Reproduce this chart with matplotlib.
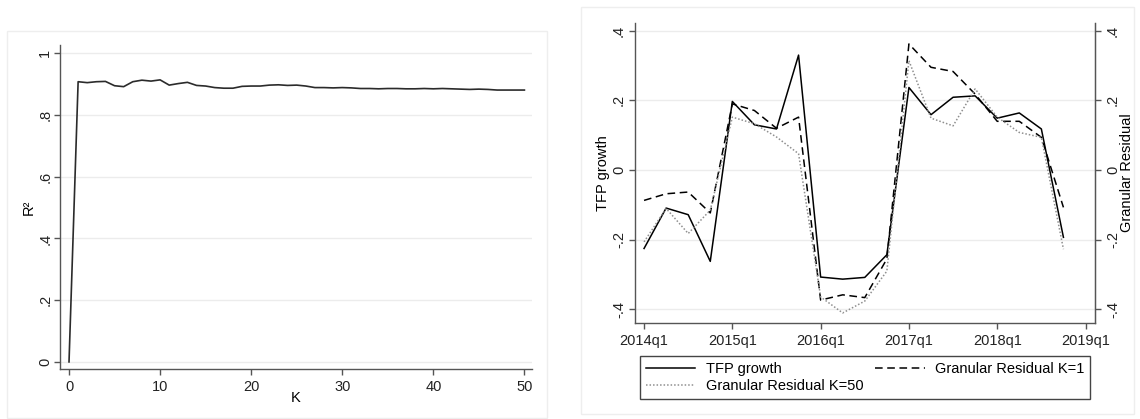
import numpy as np
import matplotlib
matplotlib.use("Agg")
import matplotlib.pyplot as plt
from matplotlib.patches import Rectangle

plt.rcParams['font.family'] = ['Liberation Sans', 'DejaVu Sans']
plt.rcParams['font.size'] = 10.5

# left panel: R2 by K
k_values = list(range(0, 51))
r2_values = [0.000, 0.908, 0.905, 0.908, 0.909, 0.895, 0.892, 0.908, 0.913, 0.910,
             0.914, 0.897, 0.902, 0.906, 0.896, 0.894, 0.889, 0.887, 0.887, 0.893,
             0.894, 0.894, 0.897, 0.898, 0.896, 0.897, 0.894, 0.889, 0.889, 0.888,
             0.889, 0.888, 0.886, 0.886, 0.885, 0.886, 0.886, 0.885, 0.885, 0.886,
             0.885, 0.886, 0.885, 0.884, 0.883, 0.884, 0.883, 0.881, 0.881, 0.881,
             0.881]
r2_ticks = [0, 0.2, 0.4, 0.6, 0.8, 1]
r2_ticklabels = ["0", ".2", ".4", ".6", ".8", "1"]
k_ticks = [0, 10, 20, 30, 40, 50]

# right panel: quarterly series 2014q1 - 2018q4
quarters = list(range(20))
tfp_growth = [-0.225, -0.109, -0.128, -0.262, 0.197, 0.130, 0.118, 0.330, -0.307, -0.313,
              -0.308, -0.243, 0.237, 0.159, 0.209, 0.213, 0.149, 0.164, 0.118, -0.193]
gr_k1 = [-0.087, -0.068, -0.063, -0.123, 0.190, 0.171, 0.120, 0.152, -0.373, -0.358,
         -0.366, -0.255, 0.362, 0.295, 0.283, 0.218, 0.140, 0.140, 0.094, -0.107]
gr_k50 = [-0.206, -0.110, -0.182, -0.115, 0.152, 0.133, 0.095, 0.047, -0.364, -0.410,
          -0.376, -0.290, 0.314, 0.149, 0.127, 0.233, 0.152, 0.108, 0.094, -0.227]
q_ticks = [0, 4, 8, 12, 16, 20]
q_ticklabels = ["2014q1", "2015q1", "2016q1", "2017q1", "2018q1", "2019q1"]
res_ticks = [-0.4, -0.2, 0, 0.2, 0.4]
res_ticklabels = ["-.4", "-.2", "0", ".2", ".4"]

W, H = 1140, 419
SPINE = "#555555"
GRID = "#ececec"


# stata-like axis look
def styleAxis(ax, sides):
    for s in ["left", "right", "top", "bottom"]:
        ax.spines[s].set_visible(s in sides)
        ax.spines[s].set_color(SPINE)
        ax.spines[s].set_linewidth(1.0)
    ax.tick_params(colors=SPINE, labelcolor="#222222", length=4, width=1.0)
    ax.set_facecolor("white")


fig = plt.figure(figsize=(W / 100, H / 100), dpi=100)
fig.patch.set_facecolor("white")

# faint outer graph-region boxes
fig.add_artist(Rectangle((7 / W, 1 - 418 / H), 540 / W, 387 / H, transform=fig.transFigure,
                         fill=False, edgecolor="#eeeeee", linewidth=1))
fig.add_artist(Rectangle((581 / W, 1 - 414 / H), 553 / W, 407 / H, transform=fig.transFigure,
                         fill=False, edgecolor="#eeeeee", linewidth=1))

# ---- left panel
ax1 = fig.add_axes([60 / W, 1 - 369.3 / H, 471.7 / W, 324.3 / H])
styleAxis(ax1, ["left", "bottom"])
ax1.plot(k_values, r2_values, color="#2b2b2b", linewidth=1.2)
ax1.set_xlim(-0.99, 50.8)
ax1.set_ylim(-0.024, 1.027)
ax1.set_yticks(r2_ticks)
ax1.set_yticklabels(r2_ticklabels, rotation=90, va="center")
ax1.set_xticks(k_ticks)
ax1.tick_params(axis="y", pad=1.5)
ax1.tick_params(axis="x", pad=4)
for t in r2_ticks:
    ax1.axhline(t, color=GRID, linewidth=1, zorder=0)
ax1.set_ylabel("R²")
ax1.yaxis.set_label_coords((29 - 60) / 471.7, 0.5)
ax1.yaxis.label.set_va("center")
ax1.set_xlabel("K")
ax1.xaxis.set_label_coords(0.5, (369.3 - 398) / 324.3)
ax1.xaxis.label.set_va("center")

# ---- right panel
ax2 = fig.add_axes([635 / W, 1 - 322.7 / H, 460 / W, 300 / H])
styleAxis(ax2, ["left", "bottom", "right"])
l1, = ax2.plot(quarters, tfp_growth, color="black", linewidth=1.1, label="TFP growth")
l2, = ax2.plot(quarters, gr_k1, color="black", linewidth=1.1, linestyle=(0, (5, 3)),
               label="Granular Residual K=1")
l3, = ax2.plot(quarters, gr_k50, color="#8f8f8f", linewidth=1.1, linestyle=(0, (1, 1.3)),
               label="Granular Residual K=50")
ax2.set_xlim(-0.41, 20.43)
ax2.set_ylim(-0.438, 0.423)
ax2.set_yticks(res_ticks)
ax2.set_yticklabels(res_ticklabels, rotation=90, va="center")
ax2.set_xticks(q_ticks)
ax2.set_xticklabels(q_ticklabels)
ax2.tick_params(axis="y", pad=2.5)
ax2.tick_params(axis="x", pad=4)
for t in res_ticks:
    ax2.axhline(t, color=GRID, linewidth=1, zorder=0)
ax2.set_ylabel("TFP growth")
ax2.yaxis.set_label_coords((603 - 635) / 460, 0.5)
ax2.yaxis.label.set_va("center")

# right y axis, same scale
ax3 = ax2.twinx()
ax3.set_ylim(ax2.get_ylim())
for s in ["left", "top", "bottom"]:
    ax3.spines[s].set_visible(False)
ax3.spines["right"].set_color(SPINE)
ax3.tick_params(colors=SPINE, labelcolor="#222222", length=4, width=1.0, pad=4)
ax3.set_yticks(res_ticks)
ax3.set_yticklabels(res_ticklabels, rotation=90, va="center")
ax3.set_ylabel("Granular Residual")
ax3.yaxis.set_label_coords((1127 - 635) / 460, 0.5)
ax3.yaxis.label.set_va("center")

# legend below the right panel
leg = fig.legend([l1, l3, l2], [l1.get_label(), l3.get_label(), l2.get_label()],
                 ncol=2, loc="upper left", mode="expand",
                 bbox_to_anchor=(640 / W, 1 - 401.7 / H, 450 / W, 45.7 / H),
                 fancybox=False, framealpha=1, edgecolor="#444444",
                 handlelength=3.4, handletextpad=0.7, columnspacing=1.2,
                 labelspacing=0.25, borderpad=0.4, borderaxespad=0.0)
leg.get_frame().set_linewidth(1.0)

plt.savefig("out.png", dpi=100)
